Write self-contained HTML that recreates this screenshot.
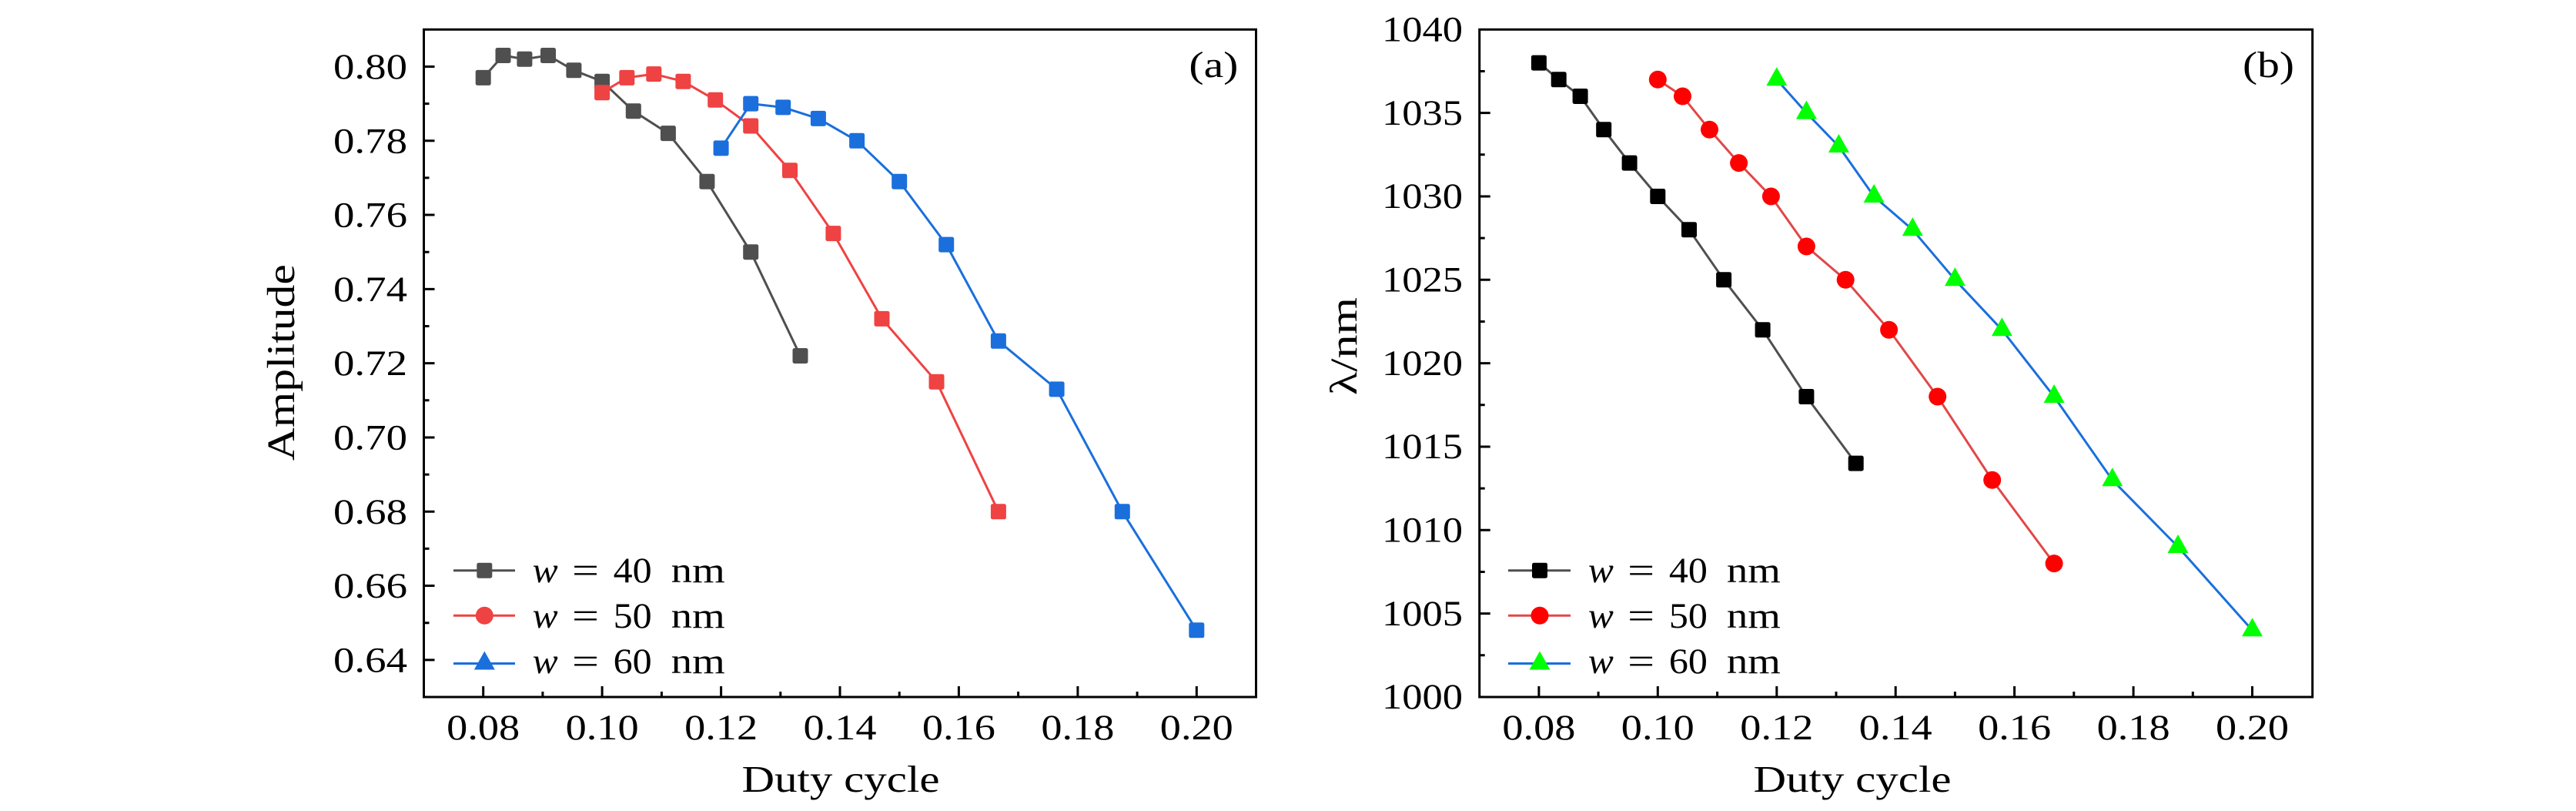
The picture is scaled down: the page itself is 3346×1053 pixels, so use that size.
<!DOCTYPE html>
<html>
<head>
<meta charset="utf-8">
<style>
html,body{margin:0;padding:0;background:#fff;}
svg{display:block;}
text{font-family:"Liberation Serif","DejaVu Serif",serif;fill:#000;}
</style>
</head>
<body>
<svg width="3346" height="1053" viewBox="0 0 3346 1053" xmlns="http://www.w3.org/2000/svg">
<defs>
<rect id="sq" x="-10" y="-10" width="20" height="20" rx="2.5"/>
<circle id="ci" cx="0" cy="0" r="11.5"/>
<path id="tri" d="M0,-16 L13.5,8 L-13.5,8 Z"/>
</defs>
<rect width="3346" height="1053" fill="#fff"/>

<!-- ================= PANEL A ================= -->
<g stroke="#000" stroke-width="3" fill="none">
<rect x="550.5" y="38.3" width="1081" height="866.7"/>
<!-- y major ticks -->
<path d="M550.5,86.45h14 M550.5,182.75h14 M550.5,279.05h14 M550.5,375.35h14 M550.5,471.65h14 M550.5,567.95h14 M550.5,664.25h14 M550.5,760.55h14 M550.5,856.85h14"/>
<!-- y minor ticks -->
<path d="M550.5,134.6h7 M550.5,230.9h7 M550.5,327.2h7 M550.5,423.5h7 M550.5,519.8h7 M550.5,616.1h7 M550.5,712.4h7 M550.5,808.7h7"/>
<!-- x major ticks -->
<path d="M627.7,905v-14 M782.1,905v-14 M936.6,905v-14 M1091,905v-14 M1245.4,905v-14 M1399.9,905v-14 M1554.3,905v-14"/>
<path d="M704.9,905v-7 M859.4,905v-7 M1013.8,905v-7 M1168.2,905v-7 M1322.6,905v-7 M1477.1,905v-7"/>
</g>

<g font-size="47" text-anchor="end">
<text x="529" y="102" textLength="96" lengthAdjust="spacingAndGlyphs">0.80</text>
<text x="529" y="198.3" textLength="96" lengthAdjust="spacingAndGlyphs">0.78</text>
<text x="529" y="294.6" textLength="96" lengthAdjust="spacingAndGlyphs">0.76</text>
<text x="529" y="390.9" textLength="96" lengthAdjust="spacingAndGlyphs">0.74</text>
<text x="529" y="487.2" textLength="96" lengthAdjust="spacingAndGlyphs">0.72</text>
<text x="529" y="583.5" textLength="96" lengthAdjust="spacingAndGlyphs">0.70</text>
<text x="529" y="679.8" textLength="96" lengthAdjust="spacingAndGlyphs">0.68</text>
<text x="529" y="776.1" textLength="96" lengthAdjust="spacingAndGlyphs">0.66</text>
<text x="529" y="872.4" textLength="96" lengthAdjust="spacingAndGlyphs">0.64</text>
</g>
<g font-size="47" text-anchor="middle">
<text x="627.7" y="960" textLength="95" lengthAdjust="spacingAndGlyphs">0.08</text>
<text x="782.1" y="960" textLength="95" lengthAdjust="spacingAndGlyphs">0.10</text>
<text x="936.6" y="960" textLength="95" lengthAdjust="spacingAndGlyphs">0.12</text>
<text x="1091" y="960" textLength="95" lengthAdjust="spacingAndGlyphs">0.14</text>
<text x="1245.4" y="960" textLength="95" lengthAdjust="spacingAndGlyphs">0.16</text>
<text x="1399.9" y="960" textLength="95" lengthAdjust="spacingAndGlyphs">0.18</text>
<text x="1554.3" y="960" textLength="95" lengthAdjust="spacingAndGlyphs">0.20</text>
</g>
<text x="1092" y="1028" font-size="49" text-anchor="middle" textLength="257" lengthAdjust="spacingAndGlyphs">Duty cycle</text>
<text transform="translate(382,470.7) rotate(-90)" font-size="51" text-anchor="middle" textLength="255" lengthAdjust="spacingAndGlyphs">Amplitude</text>
<text x="1544.4" y="100" font-size="48" textLength="64" lengthAdjust="spacingAndGlyphs">(a)</text>

<!-- series a -->
<g fill="none" stroke-width="3" stroke-linejoin="round">
<polyline stroke="#4f4f4f" points="627.7,100.9 653.5,72.0 681.4,76.8 712.0,72.0 745.4,91.3 782.1,105.7 822.8,144.2 867.9,173.1 918.4,235.7 975.2,327.2 1039.5,462.0"/>
</g>
<g fill="#4f4f4f">
<use href="#sq" x="627.7" y="100.9"/><use href="#sq" x="653.5" y="72.0"/><use href="#sq" x="681.4" y="76.8"/><use href="#sq" x="712.0" y="72.0"/><use href="#sq" x="745.4" y="91.3"/><use href="#sq" x="782.1" y="105.7"/><use href="#sq" x="822.8" y="144.2"/><use href="#sq" x="867.9" y="173.1"/><use href="#sq" x="918.4" y="235.7"/><use href="#sq" x="975.2" y="327.2"/><use href="#sq" x="1039.5" y="462.0"/>
</g>
<g fill="none" stroke-width="3" stroke-linejoin="round">
<polyline stroke="#ef4242" points="782.1,120.2 814.3,100.9 849.3,96.1 887.4,105.7 929.2,129.8 975.2,163.5 1026.0,221.3 1082.4,303.1 1145.5,413.9 1216.5,495.7 1296.9,664.3"/>
</g>
<g fill="#ef4242">
<use href="#sq" x="782.1" y="120.2"/><use href="#sq" x="814.3" y="100.9"/><use href="#sq" x="849.3" y="96.1"/><use href="#sq" x="887.4" y="105.7"/><use href="#sq" x="929.2" y="129.8"/><use href="#sq" x="975.2" y="163.5"/><use href="#sq" x="1026.0" y="221.3"/><use href="#sq" x="1082.4" y="303.1"/><use href="#sq" x="1145.5" y="413.9"/><use href="#sq" x="1216.5" y="495.7"/><use href="#sq" x="1296.9" y="664.3"/>
</g>
<g fill="none" stroke-width="3" stroke-linejoin="round">
<polyline stroke="#1a6fdc" points="936.6,192.4 975.2,134.6 1017.2,139.4 1062.9,153.9 1113.1,182.8 1168.2,235.7 1229.2,317.6 1296.9,442.8 1372.6,505.4 1457.8,664.3 1554.3,818.3"/>
</g>
<g fill="#1a6fdc">
<use href="#sq" x="936.6" y="192.4"/><use href="#sq" x="975.2" y="134.6"/><use href="#sq" x="1017.2" y="139.4"/><use href="#sq" x="1062.9" y="153.9"/><use href="#sq" x="1113.1" y="182.8"/><use href="#sq" x="1168.2" y="235.7"/><use href="#sq" x="1229.2" y="317.6"/><use href="#sq" x="1296.9" y="442.8"/><use href="#sq" x="1372.6" y="505.4"/><use href="#sq" x="1457.8" y="664.3"/><use href="#sq" x="1554.3" y="818.3"/>
</g>

<!-- legend a -->
<g stroke-width="3">
<line x1="589" y1="740.7" x2="669" y2="740.7" stroke="#4f4f4f"/>
<line x1="589" y1="799.3" x2="669" y2="799.3" stroke="#ef4242"/>
<line x1="589" y1="861.5" x2="669" y2="861.5" stroke="#1a6fdc"/>
</g>
<use href="#sq" x="629.3" y="740.7" fill="#4f4f4f"/>
<use href="#ci" x="629.3" y="799.3" fill="#ef4242"/>
<use href="#tri" x="629.3" y="861.5" fill="#1a6fdc"/>
<g font-size="47">
<text x="691.7" y="756" font-style="italic" textLength="33" lengthAdjust="spacingAndGlyphs">w</text>
<text x="743" y="756" textLength="35" lengthAdjust="spacingAndGlyphs">=</text>
<text x="796.7" y="756" textLength="50" lengthAdjust="spacingAndGlyphs">40</text>
<text x="871.7" y="756" textLength="70" lengthAdjust="spacingAndGlyphs">nm</text>
<text x="691.7" y="815" font-style="italic" textLength="33" lengthAdjust="spacingAndGlyphs">w</text>
<text x="743" y="815" textLength="35" lengthAdjust="spacingAndGlyphs">=</text>
<text x="796.7" y="815" textLength="50" lengthAdjust="spacingAndGlyphs">50</text>
<text x="871.7" y="815" textLength="70" lengthAdjust="spacingAndGlyphs">nm</text>
<text x="691.7" y="874" font-style="italic" textLength="33" lengthAdjust="spacingAndGlyphs">w</text>
<text x="743" y="874" textLength="35" lengthAdjust="spacingAndGlyphs">=</text>
<text x="796.7" y="874" textLength="50" lengthAdjust="spacingAndGlyphs">60</text>
<text x="871.7" y="874" textLength="70" lengthAdjust="spacingAndGlyphs">nm</text>
</g>

<!-- ================= PANEL B ================= -->
<g stroke="#000" stroke-width="3" fill="none">
<rect x="1921.7" y="38.3" width="1082" height="866.7"/>
<path d="M1921.7,146.6h14 M1921.7,255h14 M1921.7,363.3h14 M1921.7,471.6h14 M1921.7,580h14 M1921.7,688.3h14 M1921.7,796.6h14"/>
<path d="M1921.7,92.5h7 M1921.7,200.8h7 M1921.7,309.1h7 M1921.7,417.5h7 M1921.7,525.8h7 M1921.7,634.1h7 M1921.7,742.5h7 M1921.7,850.8h7"/>
<path d="M1998.9,905v-14 M2153.3,905v-14 M2307.8,905v-14 M2462.2,905v-14 M2616.6,905v-14 M2771.1,905v-14 M2925.5,905v-14"/>
<path d="M2076.1,905v-7 M2230.6,905v-7 M2385,905v-7 M2539.4,905v-7 M2693.8,905v-7 M2848.3,905v-7"/>
</g>
<g font-size="47" text-anchor="end">
<text x="1900" y="53.5" textLength="105" lengthAdjust="spacingAndGlyphs">1040</text>
<text x="1900" y="161.8" textLength="105" lengthAdjust="spacingAndGlyphs">1035</text>
<text x="1900" y="270.2" textLength="105" lengthAdjust="spacingAndGlyphs">1030</text>
<text x="1900" y="378.5" textLength="105" lengthAdjust="spacingAndGlyphs">1025</text>
<text x="1900" y="486.8" textLength="105" lengthAdjust="spacingAndGlyphs">1020</text>
<text x="1900" y="595.2" textLength="105" lengthAdjust="spacingAndGlyphs">1015</text>
<text x="1900" y="703.5" textLength="105" lengthAdjust="spacingAndGlyphs">1010</text>
<text x="1900" y="811.8" textLength="105" lengthAdjust="spacingAndGlyphs">1005</text>
<text x="1900" y="920.2" textLength="105" lengthAdjust="spacingAndGlyphs">1000</text>
</g>
<g font-size="47" text-anchor="middle">
<text x="1998.9" y="960" textLength="95" lengthAdjust="spacingAndGlyphs">0.08</text>
<text x="2153.3" y="960" textLength="95" lengthAdjust="spacingAndGlyphs">0.10</text>
<text x="2307.8" y="960" textLength="95" lengthAdjust="spacingAndGlyphs">0.12</text>
<text x="2462.2" y="960" textLength="95" lengthAdjust="spacingAndGlyphs">0.14</text>
<text x="2616.6" y="960" textLength="95" lengthAdjust="spacingAndGlyphs">0.16</text>
<text x="2771.1" y="960" textLength="95" lengthAdjust="spacingAndGlyphs">0.18</text>
<text x="2925.5" y="960" textLength="95" lengthAdjust="spacingAndGlyphs">0.20</text>
</g>
<text x="2406" y="1028" font-size="49" text-anchor="middle" textLength="257" lengthAdjust="spacingAndGlyphs">Duty cycle</text>
<text transform="translate(1762,449.5) rotate(-90)" font-size="50" text-anchor="middle" textLength="127" lengthAdjust="spacingAndGlyphs">λ/nm</text>
<text x="2913" y="100" font-size="48" textLength="67" lengthAdjust="spacingAndGlyphs">(b)</text>

<!-- series b -->
<polyline fill="none" stroke="#4f4f4f" stroke-width="3" stroke-linejoin="round" points="1998.9,81.6 2024.7,103.3 2052.6,125.0 2083.2,168.3 2116.6,211.6 2153.3,255.0 2194.0,298.3 2239.1,363.3 2289.6,428.3 2346.4,515.0 2410.7,601.6"/>
<g fill="#000">
<use href="#sq" x="1998.9" y="81.6"/><use href="#sq" x="2024.7" y="103.3"/><use href="#sq" x="2052.6" y="125.0"/><use href="#sq" x="2083.2" y="168.3"/><use href="#sq" x="2116.6" y="211.6"/><use href="#sq" x="2153.3" y="255.0"/><use href="#sq" x="2194.0" y="298.3"/><use href="#sq" x="2239.1" y="363.3"/><use href="#sq" x="2289.6" y="428.3"/><use href="#sq" x="2346.4" y="515.0"/><use href="#sq" x="2410.7" y="601.6"/>
</g>
<polyline fill="none" stroke="#e04848" stroke-width="3" stroke-linejoin="round" points="2153.3,103.3 2185.5,125.0 2220.5,168.3 2258.6,211.6 2300.4,255.0 2346.4,320.0 2397.2,363.3 2453.6,428.3 2516.7,515.0 2587.7,623.3 2668.1,731.6"/>
<g fill="#ff0000">
<use href="#ci" x="2153.3" y="103.3"/><use href="#ci" x="2185.5" y="125.0"/><use href="#ci" x="2220.5" y="168.3"/><use href="#ci" x="2258.6" y="211.6"/><use href="#ci" x="2300.4" y="255.0"/><use href="#ci" x="2346.4" y="320.0"/><use href="#ci" x="2397.2" y="363.3"/><use href="#ci" x="2453.6" y="428.3"/><use href="#ci" x="2516.7" y="515.0"/><use href="#ci" x="2587.7" y="623.3"/><use href="#ci" x="2668.1" y="731.6"/>
</g>
<polyline fill="none" stroke="#1a6fdc" stroke-width="3" stroke-linejoin="round" points="2307.8,103.3 2346.4,146.6 2388.4,190.0 2434.1,255.0 2484.3,298.3 2539.4,363.3 2600.4,428.3 2668.1,515.0 2743.8,623.3 2829.0,710.0 2925.5,818.3"/>
<g fill="#00ff00">
<use href="#tri" x="2307.8" y="103.3"/><use href="#tri" x="2346.4" y="146.6"/><use href="#tri" x="2388.4" y="190.0"/><use href="#tri" x="2434.1" y="255.0"/><use href="#tri" x="2484.3" y="298.3"/><use href="#tri" x="2539.4" y="363.3"/><use href="#tri" x="2600.4" y="428.3"/><use href="#tri" x="2668.1" y="515.0"/><use href="#tri" x="2743.8" y="623.3"/><use href="#tri" x="2829.0" y="710.0"/><use href="#tri" x="2925.5" y="818.3"/>
</g>

<!-- legend b -->
<g stroke-width="3">
<line x1="1959" y1="740.7" x2="2040" y2="740.7" stroke="#4f4f4f"/>
<line x1="1959" y1="799.3" x2="2040" y2="799.3" stroke="#e04848"/>
<line x1="1959" y1="861.5" x2="2040" y2="861.5" stroke="#1a6fdc"/>
</g>
<use href="#sq" x="2000" y="740.7" fill="#000"/>
<use href="#ci" x="2000" y="799.3" fill="#ff0000"/>
<use href="#tri" x="2000" y="861.5" fill="#00ff00"/>
<g font-size="47">
<text x="2062.9" y="756" font-style="italic" textLength="33" lengthAdjust="spacingAndGlyphs">w</text>
<text x="2114.2" y="756" textLength="35" lengthAdjust="spacingAndGlyphs">=</text>
<text x="2167.9" y="756" textLength="50" lengthAdjust="spacingAndGlyphs">40</text>
<text x="2242.9" y="756" textLength="70" lengthAdjust="spacingAndGlyphs">nm</text>
<text x="2062.9" y="815" font-style="italic" textLength="33" lengthAdjust="spacingAndGlyphs">w</text>
<text x="2114.2" y="815" textLength="35" lengthAdjust="spacingAndGlyphs">=</text>
<text x="2167.9" y="815" textLength="50" lengthAdjust="spacingAndGlyphs">50</text>
<text x="2242.9" y="815" textLength="70" lengthAdjust="spacingAndGlyphs">nm</text>
<text x="2062.9" y="874" font-style="italic" textLength="33" lengthAdjust="spacingAndGlyphs">w</text>
<text x="2114.2" y="874" textLength="35" lengthAdjust="spacingAndGlyphs">=</text>
<text x="2167.9" y="874" textLength="50" lengthAdjust="spacingAndGlyphs">60</text>
<text x="2242.9" y="874" textLength="70" lengthAdjust="spacingAndGlyphs">nm</text>
</g>
</svg>
</body>
</html>
